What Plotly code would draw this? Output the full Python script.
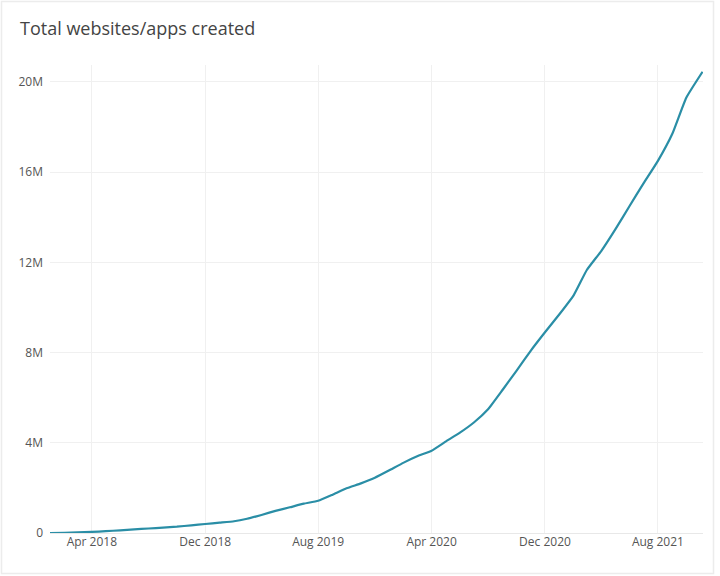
import plotly.graph_objects as go

dates = [
    "2018-01-01", "2018-02-01", "2018-03-01", "2018-04-01", "2018-05-01", "2018-06-01",
    "2018-07-01", "2018-08-01", "2018-09-01", "2018-10-01", "2018-11-01", "2018-12-01",
    "2019-01-01", "2019-02-01", "2019-03-01", "2019-04-01", "2019-05-01", "2019-06-01",
    "2019-07-01", "2019-08-01", "2019-09-01", "2019-10-01", "2019-11-01", "2019-12-01",
    "2020-01-01", "2020-02-01", "2020-03-01", "2020-04-01", "2020-05-01", "2020-06-01",
    "2020-07-01", "2020-08-01", "2020-09-01", "2020-10-01", "2020-11-01", "2020-12-01",
    "2021-01-01", "2021-02-01", "2021-03-01", "2021-04-01", "2021-05-01", "2021-06-01",
    "2021-07-01", "2021-08-01", "2021-09-01", "2021-10-01", "2021-11-05",
]
total_millions = [
    0.0, 0.01, 0.03, 0.05, 0.08, 0.12,
    0.16, 0.20, 0.24, 0.28, 0.34, 0.40,
    0.46, 0.52, 0.63, 0.80, 0.98, 1.14,
    1.30, 1.43, 1.70, 1.98, 2.20, 2.45,
    2.78, 3.12, 3.40, 3.65, 4.05, 4.45,
    4.90, 5.50, 6.35, 7.20, 8.10, 8.90,
    9.70, 10.55, 11.66, 12.50, 13.45, 14.50,
    15.50, 16.50, 17.70, 19.30, 20.45,
]
values = [v * 1e6 for v in total_millions]

title_text = "Total websites/apps created"
y_ticks = [0, 4e6, 8e6, 12e6, 16e6, 20e6]
y_tick_labels = ["0", "4M", "8M", "12M", "16M", "20M"]
x_ticks = ["2018-04-01", "2018-12-01", "2019-08-01", "2020-04-01", "2020-12-01", "2021-08-01"]
x_tick_labels = ["Apr 2018", "Dec 2018", "Aug 2019", "Apr 2020", "Dec 2020", "Aug 2021"]

fig = go.Figure()
fig.add_trace(go.Scatter(
    x=dates, y=values, mode="lines",
    line=dict(color="#2a8ea6", width=2.2, shape="spline", smoothing=0.4),
    hoverinfo="x+y", showlegend=False,
))

fig.update_layout(
    width=720, height=576,
    paper_bgcolor="white", plot_bgcolor="white",
    margin=dict(l=50, r=17, t=65, b=43),
    font=dict(family="Open Sans, sans-serif", color="#555"),
    title=dict(text=title_text, x=20 / 720, xanchor="left", xref="container",
               y=1 - 29 / 576, yanchor="middle", yref="container",
               font=dict(size=18, color="#444", family="Open Sans, sans-serif")),
    xaxis=dict(
        type="date", range=["2018-01-01", "2021-11-06"],
        tickvals=x_ticks, ticktext=x_tick_labels,
        showgrid=True, gridcolor="#f0f0f0", gridwidth=1,
        zeroline=False, showline=False, ticks="",
        tickfont=dict(size=12, color="#555"),
    ),
    yaxis=dict(
        range=[0, 20.75e6],
        tickvals=y_ticks, ticktext=y_tick_labels,
        showgrid=True, gridcolor="#f0f0f0", gridwidth=1,
        zeroline=True, zerolinecolor="#e8e8e8", zerolinewidth=1,
        showline=False, ticks="", ticklabelstandoff=6,
        tickfont=dict(size=12, color="#555"),
    ),
)

# faint frame around the whole card
fig.add_shape(
    type="rect", xref="paper", yref="paper",
    x0=(1.5 - 50) / 653, x1=(713.5 - 50) / 653,
    y0=(533 - 573.5) / 468, y1=(533 - 1.5) / 468,
    line=dict(color="#ececec", width=1.5), fillcolor="rgba(0,0,0,0)", layer="below",
)

fig.write_html("out.html")
